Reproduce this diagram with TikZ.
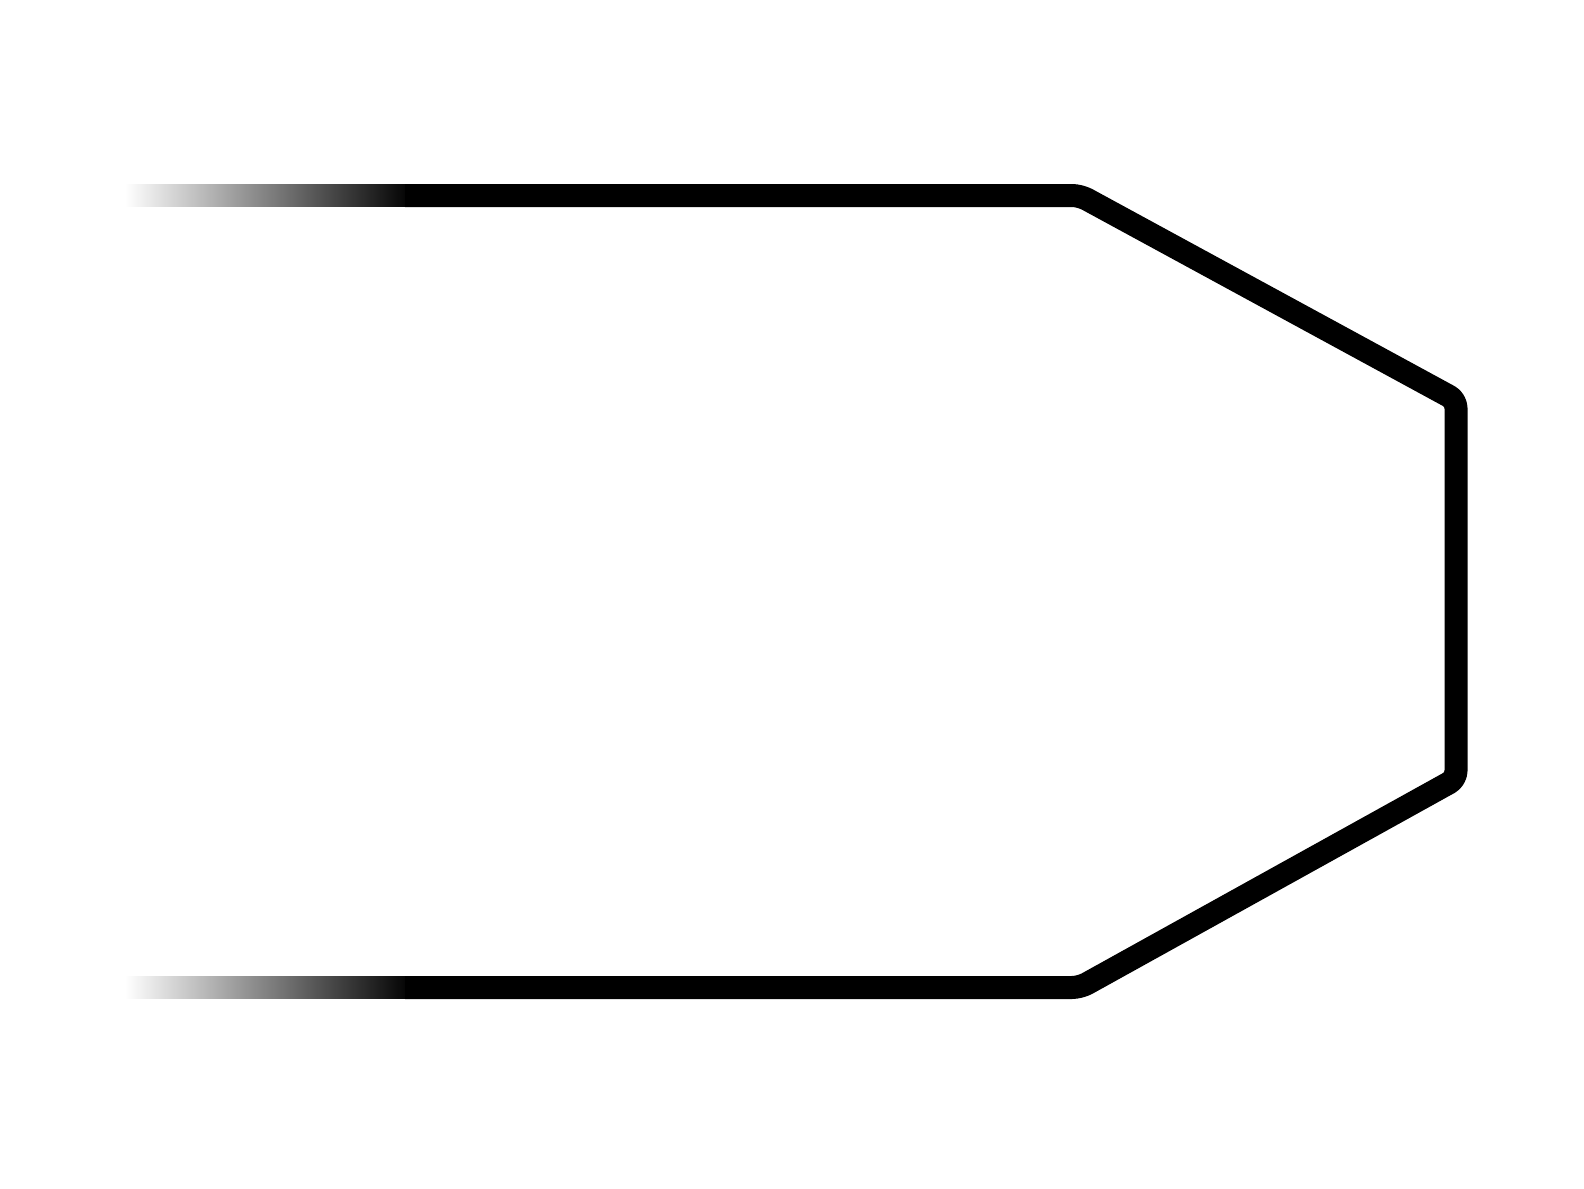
\documentclass[tikz,border=0pt]{standalone}
\begin{document}
\begin{tikzpicture}[x=0.5pt,y=-0.5pt,
  outline/.style={line width=11.5pt, draw=black, rounded corners=4pt, line join=round},
  fadebar/.style={left color=white, right color=black, draw=none}]
\useasboundingbox (0,0) rectangle (1584,1188);
\shade[fadebar] (125,184.6) rectangle (412,206.4);
\shade[fadebar] (125,976.6) rectangle (412,998.4);
\draw[outline] (405,195.5) -- (1080,195.5) -- (1456,400) -- (1456,779) -- (1080,987.5) -- (405,987.5);
\end{tikzpicture}
\end{document}
